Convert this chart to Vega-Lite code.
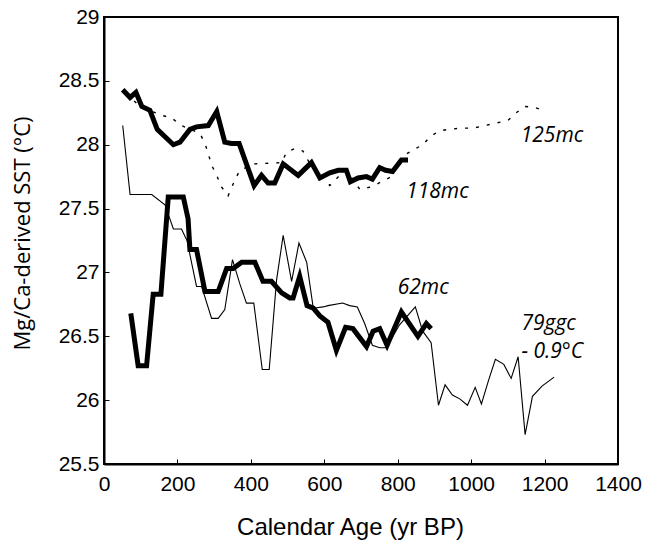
{
  "$schema": "https://vega.github.io/schema/vega-lite/v6.json",
  "width": 514,
  "height": 447,
  "autosize": {"type": "none"},
  "padding": {"left": 104, "top": 17, "right": 27, "bottom": 80},
  "config": {
    "view": {"stroke": "black", "strokeWidth": 2},
    "axis": {
      "grid": false,
      "domainColor": "black",
      "domainWidth": 2,
      "tickColor": "black",
      "tickWidth": 1,
      "tickSize": -5,
      "labelFont": "Liberation Sans",
      "labelFontSize": 21,
      "labelColor": "black",
      "labelOverlap": false,
      "labelFlush": false,
      "titleFont": "Liberation Sans",
      "titleFontSize": 24,
      "titleFontWeight": "normal",
      "titleColor": "black"
    }
  },
  "datasets": {
    "cores": [
      {"core": "79ggc", "age": 51, "sst": 28.15},
      {"core": "79ggc", "age": 71, "sst": 27.61},
      {"core": "79ggc", "age": 130, "sst": 27.61},
      {"core": "79ggc", "age": 166, "sst": 27.53},
      {"core": "79ggc", "age": 189, "sst": 27.34},
      {"core": "79ggc", "age": 211, "sst": 27.34},
      {"core": "79ggc", "age": 226, "sst": 27.25},
      {"core": "79ggc", "age": 252, "sst": 26.89},
      {"core": "79ggc", "age": 266, "sst": 26.89},
      {"core": "79ggc", "age": 293, "sst": 26.64},
      {"core": "79ggc", "age": 311, "sst": 26.64},
      {"core": "79ggc", "age": 329, "sst": 26.71},
      {"core": "79ggc", "age": 350, "sst": 27.10},
      {"core": "79ggc", "age": 370, "sst": 26.91},
      {"core": "79ggc", "age": 388, "sst": 26.76},
      {"core": "79ggc", "age": 408, "sst": 26.76},
      {"core": "79ggc", "age": 431, "sst": 26.24},
      {"core": "79ggc", "age": 450, "sst": 26.24},
      {"core": "79ggc", "age": 470, "sst": 26.94},
      {"core": "79ggc", "age": 488, "sst": 27.29},
      {"core": "79ggc", "age": 511, "sst": 26.93},
      {"core": "79ggc", "age": 531, "sst": 27.23},
      {"core": "79ggc", "age": 552, "sst": 27.08},
      {"core": "79ggc", "age": 570, "sst": 26.72},
      {"core": "79ggc", "age": 597, "sst": 26.73},
      {"core": "79ggc", "age": 610, "sst": 26.74},
      {"core": "79ggc", "age": 650, "sst": 26.76},
      {"core": "79ggc", "age": 669, "sst": 26.74},
      {"core": "79ggc", "age": 690, "sst": 26.73},
      {"core": "79ggc", "age": 710, "sst": 26.60},
      {"core": "79ggc", "age": 731, "sst": 26.43},
      {"core": "79ggc", "age": 751, "sst": 26.41},
      {"core": "79ggc", "age": 769, "sst": 26.41},
      {"core": "79ggc", "age": 805, "sst": 26.59},
      {"core": "79ggc", "age": 848, "sst": 26.73},
      {"core": "79ggc", "age": 868, "sst": 26.54},
      {"core": "79ggc", "age": 891, "sst": 26.45},
      {"core": "79ggc", "age": 911, "sst": 25.96},
      {"core": "79ggc", "age": 929, "sst": 26.12},
      {"core": "79ggc", "age": 949, "sst": 26.04},
      {"core": "79ggc", "age": 969, "sst": 26.01},
      {"core": "79ggc", "age": 990, "sst": 25.96},
      {"core": "79ggc", "age": 1011, "sst": 26.10},
      {"core": "79ggc", "age": 1028, "sst": 25.97},
      {"core": "79ggc", "age": 1048, "sst": 26.16},
      {"core": "79ggc", "age": 1066, "sst": 26.32},
      {"core": "79ggc", "age": 1089, "sst": 26.28},
      {"core": "79ggc", "age": 1109, "sst": 26.17},
      {"core": "79ggc", "age": 1128, "sst": 26.34},
      {"core": "79ggc", "age": 1147, "sst": 25.73},
      {"core": "79ggc", "age": 1167, "sst": 26.03},
      {"core": "79ggc", "age": 1193, "sst": 26.11},
      {"core": "79ggc", "age": 1226, "sst": 26.18},

      {"core": "125mc", "age": 60, "sst": 28.40},
      {"core": "125mc", "age": 98, "sst": 28.30},
      {"core": "125mc", "age": 157, "sst": 28.23},
      {"core": "125mc", "age": 184, "sst": 28.21},
      {"core": "125mc", "age": 211, "sst": 28.15},
      {"core": "125mc", "age": 261, "sst": 28.09},
      {"core": "125mc", "age": 275, "sst": 28.01},
      {"core": "125mc", "age": 284, "sst": 27.93},
      {"core": "125mc", "age": 293, "sst": 27.84},
      {"core": "125mc", "age": 307, "sst": 27.76},
      {"core": "125mc", "age": 320, "sst": 27.67},
      {"core": "125mc", "age": 338, "sst": 27.60},
      {"core": "125mc", "age": 356, "sst": 27.72},
      {"core": "125mc", "age": 370, "sst": 27.80},
      {"core": "125mc", "age": 411, "sst": 27.85},
      {"core": "125mc", "age": 484, "sst": 27.86},
      {"core": "125mc", "age": 497, "sst": 27.94},
      {"core": "125mc", "age": 520, "sst": 27.97},
      {"core": "125mc", "age": 542, "sst": 27.95},
      {"core": "125mc", "age": 561, "sst": 27.85},
      {"core": "125mc", "age": 592, "sst": 27.75},
      {"core": "125mc", "age": 615, "sst": 27.68},
      {"core": "125mc", "age": 642, "sst": 27.76},
      {"core": "125mc", "age": 660, "sst": 27.80},
      {"core": "125mc", "age": 697, "sst": 27.65},
      {"core": "125mc", "age": 728, "sst": 27.67},
      {"core": "125mc", "age": 756, "sst": 27.71},
      {"core": "125mc", "age": 783, "sst": 27.75},
      {"core": "125mc", "age": 814, "sst": 27.91},
      {"core": "125mc", "age": 842, "sst": 27.96},
      {"core": "125mc", "age": 869, "sst": 28.00},
      {"core": "125mc", "age": 887, "sst": 28.06},
      {"core": "125mc", "age": 914, "sst": 28.11},
      {"core": "125mc", "age": 941, "sst": 28.12},
      {"core": "125mc", "age": 973, "sst": 28.13},
      {"core": "125mc", "age": 1005, "sst": 28.13},
      {"core": "125mc", "age": 1037, "sst": 28.15},
      {"core": "125mc", "age": 1069, "sst": 28.17},
      {"core": "125mc", "age": 1100, "sst": 28.19},
      {"core": "125mc", "age": 1123, "sst": 28.25},
      {"core": "125mc", "age": 1146, "sst": 28.30},
      {"core": "125mc", "age": 1175, "sst": 28.29},
      {"core": "125mc", "age": 1205, "sst": 28.26},

      {"core": "118mc", "age": 51, "sst": 28.43},
      {"core": "118mc", "age": 71, "sst": 28.37},
      {"core": "118mc", "age": 87, "sst": 28.41},
      {"core": "118mc", "age": 103, "sst": 28.30},
      {"core": "118mc", "age": 125, "sst": 28.27},
      {"core": "118mc", "age": 145, "sst": 28.12},
      {"core": "118mc", "age": 189, "sst": 28.00},
      {"core": "118mc", "age": 207, "sst": 28.02},
      {"core": "118mc", "age": 234, "sst": 28.12},
      {"core": "118mc", "age": 252, "sst": 28.14},
      {"core": "118mc", "age": 284, "sst": 28.15},
      {"core": "118mc", "age": 307, "sst": 28.26},
      {"core": "118mc", "age": 329, "sst": 28.02},
      {"core": "118mc", "age": 347, "sst": 28.01},
      {"core": "118mc", "age": 368, "sst": 28.01},
      {"core": "118mc", "age": 409, "sst": 27.68},
      {"core": "118mc", "age": 429, "sst": 27.76},
      {"core": "118mc", "age": 447, "sst": 27.70},
      {"core": "118mc", "age": 465, "sst": 27.70},
      {"core": "118mc", "age": 488, "sst": 27.85},
      {"core": "118mc", "age": 529, "sst": 27.76},
      {"core": "118mc", "age": 565, "sst": 27.86},
      {"core": "118mc", "age": 588, "sst": 27.74},
      {"core": "118mc", "age": 615, "sst": 27.78},
      {"core": "118mc", "age": 638, "sst": 27.80},
      {"core": "118mc", "age": 660, "sst": 27.80},
      {"core": "118mc", "age": 671, "sst": 27.71},
      {"core": "118mc", "age": 692, "sst": 27.74},
      {"core": "118mc", "age": 715, "sst": 27.75},
      {"core": "118mc", "age": 731, "sst": 27.73},
      {"core": "118mc", "age": 751, "sst": 27.82},
      {"core": "118mc", "age": 767, "sst": 27.80},
      {"core": "118mc", "age": 786, "sst": 27.79},
      {"core": "118mc", "age": 810, "sst": 27.88},
      {"core": "118mc", "age": 828, "sst": 27.88},

      {"core": "62mc", "age": 73, "sst": 26.68},
      {"core": "62mc", "age": 93, "sst": 26.27},
      {"core": "62mc", "age": 116, "sst": 26.27},
      {"core": "62mc", "age": 134, "sst": 26.83},
      {"core": "62mc", "age": 155, "sst": 26.83},
      {"core": "62mc", "age": 175, "sst": 27.59},
      {"core": "62mc", "age": 216, "sst": 27.59},
      {"core": "62mc", "age": 229, "sst": 27.42},
      {"core": "62mc", "age": 234, "sst": 27.18},
      {"core": "62mc", "age": 252, "sst": 27.18},
      {"core": "62mc", "age": 275, "sst": 26.85},
      {"core": "62mc", "age": 311, "sst": 26.85},
      {"core": "62mc", "age": 334, "sst": 27.03},
      {"core": "62mc", "age": 352, "sst": 27.03},
      {"core": "62mc", "age": 375, "sst": 27.08},
      {"core": "62mc", "age": 411, "sst": 27.08},
      {"core": "62mc", "age": 433, "sst": 26.93},
      {"core": "62mc", "age": 456, "sst": 26.93},
      {"core": "62mc", "age": 484, "sst": 26.84},
      {"core": "62mc", "age": 506, "sst": 26.80},
      {"core": "62mc", "age": 515, "sst": 26.80},
      {"core": "62mc", "age": 533, "sst": 26.97},
      {"core": "62mc", "age": 553, "sst": 26.74},
      {"core": "62mc", "age": 570, "sst": 26.72},
      {"core": "62mc", "age": 588, "sst": 26.66},
      {"core": "62mc", "age": 610, "sst": 26.61},
      {"core": "62mc", "age": 633, "sst": 26.39},
      {"core": "62mc", "age": 658, "sst": 26.57},
      {"core": "62mc", "age": 678, "sst": 26.56},
      {"core": "62mc", "age": 715, "sst": 26.42},
      {"core": "62mc", "age": 733, "sst": 26.54},
      {"core": "62mc", "age": 751, "sst": 26.56},
      {"core": "62mc", "age": 771, "sst": 26.43},
      {"core": "62mc", "age": 810, "sst": 26.69},
      {"core": "62mc", "age": 855, "sst": 26.50},
      {"core": "62mc", "age": 878, "sst": 26.60},
      {"core": "62mc", "age": 891, "sst": 26.56}
    ],
    "tags": [
      {"text": "125mc", "age": 1135, "sst": 28.07},
      {"text": "118mc", "age": 823, "sst": 27.63},
      {"text": "62mc", "age": 800, "sst": 26.88},
      {"text": "79ggc", "age": 1137, "sst": 26.60},
      {"text": "- 0.9°C", "age": 1137, "sst": 26.38}
    ]
  },
  "layer": [
    {
      "data": {"name": "cores"},
      "transform": [{"filter": "datum.core === '79ggc'"}],
      "mark": {"type": "line", "color": "black", "strokeWidth": 1.1},
      "encoding": {
        "x": {
          "field": "age", "type": "quantitative",
          "scale": {"domain": [0, 1400], "nice": false, "zero": false},
          "axis": {
            "orient": "bottom",
            "values": [0, 200, 400, 600, 800, 1000, 1200, 1400],
            "format": "d",
            "labelPadding": 14,
            "title": "Calendar Age (yr BP)",
            "titleX": 246,
            "titleY": 63,
            "titleBaseline": "middle"
          }
        },
        "y": {
          "field": "sst", "type": "quantitative",
          "scale": {"domain": [25.5, 29], "nice": false, "zero": false},
          "axis": {
            "orient": "left",
            "values": [25.5, 26, 26.5, 27, 27.5, 28, 28.5, 29],
            "format": "~g",
            "labelPadding": 10,
            "title": "Mg/Ca-derived SST (°C)",
            "titleFont": "Open Sans",
            "titleFontSize": 22,
            "titleX": -82,
            "titleY": 216,
            "titleBaseline": "middle"
          }
        }
      }
    },
    {
      "data": {"name": "cores"},
      "transform": [{"filter": "datum.core === '125mc'"}],
      "mark": {"type": "line", "color": "black", "strokeWidth": 1.4, "strokeDash": [3, 8]},
      "encoding": {
        "x": {"field": "age", "type": "quantitative"},
        "y": {"field": "sst", "type": "quantitative"}
      }
    },
    {
      "data": {"name": "cores"},
      "transform": [{"filter": "datum.core === '118mc' || datum.core === '62mc'"}],
      "mark": {"type": "line", "color": "black", "strokeWidth": 5, "strokeJoin": "miter"},
      "encoding": {
        "x": {"field": "age", "type": "quantitative"},
        "y": {"field": "sst", "type": "quantitative"},
        "detail": {"field": "core"}
      }
    },
    {
      "data": {"name": "tags"},
      "mark": {
        "type": "text", "align": "left", "baseline": "middle",
        "font": "Open Sans", "fontStyle": "italic", "fontSize": 21, "color": "black"
      },
      "encoding": {
        "x": {"field": "age", "type": "quantitative"},
        "y": {"field": "sst", "type": "quantitative"},
        "text": {"field": "text"}
      }
    }
  ]
}
